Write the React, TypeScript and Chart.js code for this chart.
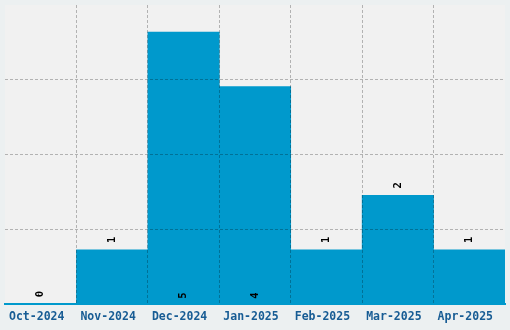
import React, { useEffect, useRef } from "react";
import { Chart, registerables } from "chart.js";

Chart.register(...registerables);

const categories = ["Oct-2024", "Nov-2024", "Dec-2024", "Jan-2025", "Feb-2025", "Mar-2025", "Apr-2025"];
const counts = [0, 1, 5, 4, 1, 2, 1];
const yMax = 5.5;

const BAR = "#0099cc";
const GRID = "rgba(0,0,0,0.26)";

const bgPlugin = {
  id: "areaBg",
  beforeDraw(chart: any) {
    const { ctx, chartArea } = chart;
    ctx.save();
    ctx.fillStyle = "#f1f1f1";
    ctx.fillRect(chartArea.left, chartArea.top, chartArea.right - chartArea.left, chartArea.bottom - chartArea.top);
    ctx.restore();
  },
};

const labelPlugin = {
  id: "valLabels",
  afterDraw(chart: any) {
    const { ctx, chartArea } = chart;
    const meta = chart.getDatasetMeta(0);
    const h = chartArea.bottom - chartArea.top;
    ctx.save();
    ctx.fillStyle = "#000";
    ctx.font = "bold 10.5px 'DejaVu Sans Mono'";
    ctx.textAlign = "center";
    ctx.textBaseline = "middle";
    meta.data.forEach((el: any, i: number) => {
      const v = counts[i];
      const barH = el.base - el.y;
      const cy = barH > h * 0.5 ? el.base - 8 : el.y - 10;
      ctx.save();
      ctx.translate(el.x, cy);
      ctx.rotate(-Math.PI / 2);
      ctx.fillText(String(v), 0, 0);
      ctx.restore();
    });
    ctx.restore();
  },
};

export default function App() {
  const ref = useRef<HTMLCanvasElement>(null);
  useEffect(() => {
    document.body.style.margin = "0";
    const chart = new Chart(ref.current!, {
      type: "bar",
      data: {
        labels: categories,
        datasets: [
          {
            data: counts,
            backgroundColor: BAR,
            borderWidth: 0,
            categoryPercentage: 1,
            barPercentage: 1,
          },
        ],
      },
      options: {
        responsive: false,
        animation: false,
        layout: { padding: { left: 5, right: 5, top: 5, bottom: 0 } },
        plugins: { legend: { display: false }, tooltip: { enabled: false } },
        scales: {
          x: {
            offset: true,
            border: { display: true, color: BAR, width: 2, dash: [3, 2], z: 2 },
            grid: {
              z: 1,
              offset: true,
              drawTicks: false,
              lineWidth: 1,
              color: (c: any) => (c.tick && c.index > 0 ? GRID : "transparent"),
            },
            ticks: {
              color: "#175c94",
              font: { family: "'DejaVu Sans Mono'", size: 11.5, weight: "bold" },
              padding: 6,
              labelOffset: -4,
              maxRotation: 0,
              autoSkip: false,
            },
          },
          y: {
            min: 0,
            max: yMax,
            border: { display: false, dash: [3, 2] },
            grid: {
              z: 1,
              drawTicks: false,
              color: (c: any) =>
                c.tick && c.tick.value > 0 && c.tick.value < yMax ? GRID : "transparent",
            },
            ticks: { display: false, count: 5 },
          },
        },
      },
      plugins: [bgPlugin, labelPlugin],
    });
    return () => chart.destroy();
  }, []);
  return (
    <div style={{ width: 510, height: 330, background: "#ecf0f1" }}>
      <canvas ref={ref} width={510} height={330} style={{ display: "block" }} />
    </div>
  );
}
